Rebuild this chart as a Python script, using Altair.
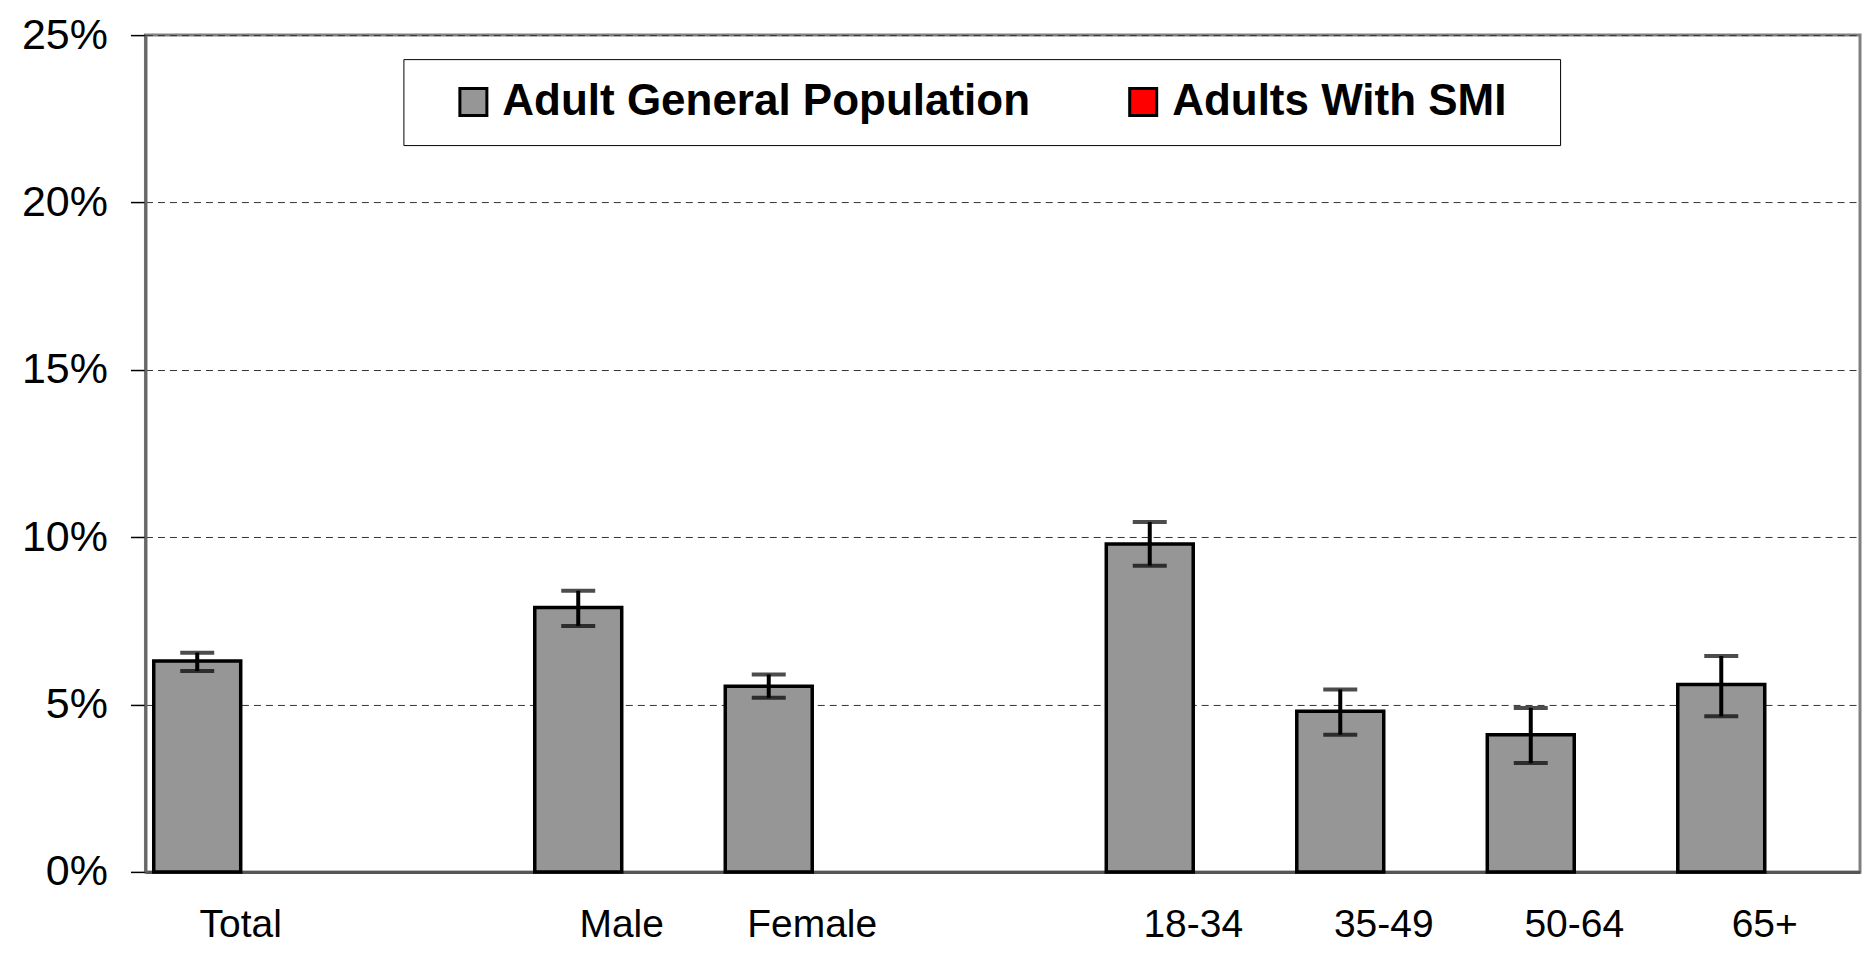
import altair as alt
import pandas as pd

FONT = "Liberation Sans"

# ---- data ----
categories = ["Total", " ", "Male", "Female", "  ", "18-34", "35-49", "50-64", "65+"]
groups = ["Total", "Male", "Female", "18-34", "35-49", "50-64", "65+"]
general_values = [6.3, 7.9, 5.55, 9.8, 4.8, 4.1, 5.6]
general_lower = [6.0, 7.35, 5.2, 9.15, 4.1, 3.25, 4.65]
general_upper = [6.55, 8.4, 5.9, 10.45, 5.45, 4.9, 6.45]
series_names = ["Adult General Population", "Adults With SMI"]
series_colors = ["#969696", "#ff0000"]
y_ticks = [0, 5, 10, 15, 20, 25]

df = pd.DataFrame({
    "group": groups,
    "series": [series_names[0]] * len(groups),
    "value": general_values,
    "lower": general_lower,
    "upper": general_upper,
})

x_enc = alt.X(
    "group:N",
    scale=alt.Scale(domain=categories, paddingInner=0.087, paddingOuter=0.0435),
    axis=alt.Axis(
        title=None, labelAngle=0, ticks=False, tickSize=0,
        domainColor="#555555", domainWidth=3,
        labelFont=FONT, labelFontSize=39, labelColor="black", labelPadding=34,
    ),
)
xoff = alt.XOffset("series:N", scale=alt.Scale(domain=series_names, paddingInner=0, paddingOuter=0))
y_scale = alt.Scale(domain=[0, 25], nice=False)
y_axis = alt.Axis(
    title=None, values=y_ticks, labelExpr="datum.value + '%'",
    tickSize=15, tickColor="#000000", tickWidth=1.5,
    labelFont=FONT, labelFontSize=43, labelColor="black", labelPadding=23,
    domainColor="#666666", domainWidth=3,
    grid=True, gridDash=[7, 5], gridColor="#333333", gridWidth=1,
)

base = alt.Chart(df)

bars = base.mark_bar(stroke="black", strokeWidth=3.5).encode(
    x=x_enc,
    xOffset=xoff,
    y=alt.Y("value:Q", scale=y_scale, axis=y_axis),
    color=alt.Color(
        "series:N",
        scale=alt.Scale(domain=series_names, range=series_colors),
        legend=alt.Legend(
            title=None, orient="none", legendX=258, legendY=24,
            direction="horizontal", symbolType="square", symbolSize=729,
            symbolStrokeColor="black", symbolStrokeWidth=3,
            labelFont=FONT, labelFontSize=44, labelFontWeight="bold", labelColor="black",
            labelOffset=7, columnPadding=63, padding=21, symbolOffset=27,
            labelLimit=1000,
            labelExpr="datum.label == 'Adults With SMI' ? datum.label + '\\u2800' : datum.label",
            strokeColor="#000000", fillColor="white",
        ),
    ),
)

rules = base.mark_rule(strokeWidth=4, color="black").encode(
    x=x_enc, xOffset=xoff,
    y=alt.Y("lower:Q", scale=y_scale, axis=y_axis), y2="upper:Q",
)
cap_lo = base.mark_tick(thickness=4, size=34, color="black").encode(
    x=x_enc, xOffset=xoff, y=alt.Y("lower:Q", scale=y_scale, axis=y_axis),
)
cap_hi = base.mark_tick(thickness=4, size=34, color="black").encode(
    x=x_enc, xOffset=xoff, y=alt.Y("upper:Q", scale=y_scale, axis=y_axis),
)

chart = alt.layer(bars, rules, cap_lo, cap_hi).properties(
    width=1715, height=837,
    autosize=alt.AutoSizeParams(type="none"),
    padding={"left": 137.5, "top": 27, "right": 2, "bottom": 73},
).configure_view(stroke="#808080", strokeWidth=3)

chart.save("out.html", embed_options={"renderer": "svg", "actions": False})
